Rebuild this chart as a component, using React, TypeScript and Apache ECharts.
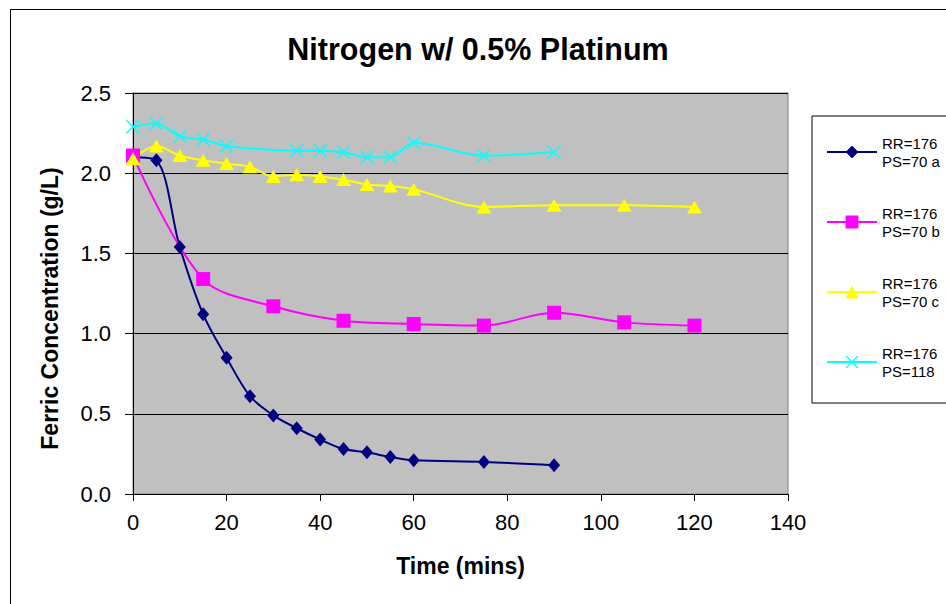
import React, { useEffect, useRef } from "react";
import * as echarts from "echarts";

const titleText = "Nitrogen w/ 0.5% Platinum";
const xAxisTitle = "Time (mins)";
const yAxisTitle = "Ferric Concentration (g/L)";

const seriesNames = [
  "RR=176\nPS=70 a",
  "RR=176\nPS=70 b",
  "RR=176\nPS=70 c",
  "RR=176\nPS=118",
];

const timesA = [0, 5, 10, 15, 20, 25, 30, 35, 40, 45, 50, 55, 60, 75, 90];
const valuesA = [2.1, 2.08, 1.54, 1.12, 0.85, 0.61, 0.49, 0.41, 0.34, 0.28, 0.26, 0.23, 0.21, 0.2, 0.18];

const timesB = [0, 15, 30, 45, 60, 75, 90, 105, 120];
const valuesB = [2.11, 1.34, 1.17, 1.08, 1.06, 1.05, 1.13, 1.07, 1.05];

const timesC = [0, 5, 10, 15, 20, 25, 30, 35, 40, 45, 50, 55, 60, 75, 90, 105, 120];
const valuesC = [2.09, 2.17, 2.11, 2.08, 2.06, 2.04, 1.98, 1.99, 1.98, 1.96, 1.93, 1.92, 1.9, 1.79, 1.8, 1.8, 1.79];

const timesD = [0, 5, 10, 15, 20, 35, 40, 45, 50, 55, 60, 75, 90];
const valuesD = [2.29, 2.31, 2.23, 2.21, 2.17, 2.14, 2.14, 2.13, 2.1, 2.1, 2.19, 2.11, 2.13];

const FONT = "'Liberation Sans', Arial, Helvetica, sans-serif";
const CROSS =
  "path://M0,7L7,0L50,43L93,0L100,7L57,50L100,93L93,100L50,57L7,100L0,93L43,50Z";

function pairs(xs: number[], ys: number[]) {
  return xs.map((x, i) => [x, ys[i]]);
}

export default function App() {
  const ref = useRef<HTMLDivElement>(null);
  useEffect(() => {
    if (!ref.current) return;
    const chart = echarts.init(ref.current, undefined, { renderer: "svg" });
    const mk = (
      name: string,
      data: number[][],
      color: string,
      symbol: string,
      symbolSize: number | number[]
    ) => ({
      name,
      type: "line",
      data,
      smooth: 0.33,
      symbol,
      symbolSize,
      showSymbol: true,
      lineStyle: { color, width: 2 },
      itemStyle: { color, borderColor: color, borderWidth: 0 },
      emphasis: { disabled: true },
    });
    chart.setOption({
      animation: false,
      backgroundColor: "#ffffff",
      textStyle: { fontFamily: FONT },
      title: {
        text: titleText,
        left: 473,
        top: 28,
        textAlign: "center",
        textStyle: { fontFamily: FONT, fontSize: 30.5, fontWeight: "bold", color: "#000" },
      },
      graphic: [
        {
          type: "rect",
          z: -10,
          shape: { x: 10.5, y: 9.5, width: 1200, height: 1200 },
          style: { fill: "none", stroke: "#000", lineWidth: 1 },
          silent: true,
        },
      ],
      legend: {
        orient: "vertical",
        left: 812,
        top: 116,
        padding: [18, 60, 23, 14],
        itemGap: 34,
        itemWidth: 50,
        itemHeight: 16,
        backgroundColor: "#ffffff",
        borderColor: "#000000",
        borderWidth: 1,
        textStyle: { fontFamily: FONT, fontSize: 15, lineHeight: 18, color: "#000" },
        data: seriesNames,
      },
      grid: {
        left: 133,
        top: 93,
        right: 158,
        bottom: 110,
        show: true,
        backgroundColor: "#C0C0C0",
        borderColor: "#808080",
        borderWidth: 1,
      },
      xAxis: {
        type: "value",
        min: 0,
        max: 140,
        interval: 20,
        name: xAxisTitle,
        nameLocation: "middle",
        nameGap: 60,
        nameTextStyle: { fontFamily: FONT, fontSize: 23, fontWeight: "bold", color: "#000" },
        axisLine: { show: true, onZero: false, lineStyle: { color: "#000", width: 1 } },
        axisTick: { show: true, inside: false, length: 7, lineStyle: { color: "#000" } },
        axisLabel: { fontFamily: FONT, fontSize: 22, color: "#000", margin: 17 },
        splitLine: { show: false },
      },
      yAxis: {
        type: "value",
        min: 0,
        max: 2.5,
        interval: 0.5,
        name: yAxisTitle,
        nameLocation: "middle",
        nameGap: 72,
        nameTextStyle: {
          fontFamily: FONT,
          fontSize: 23,
          fontWeight: "bold",
          color: "#000",
          padding: [0, 30, 0, 0],
        },
        axisLine: { show: true, lineStyle: { color: "#000", width: 1 } },
        axisTick: { show: true, inside: false, length: 8, lineStyle: { color: "#000" } },
        axisLabel: {
          fontFamily: FONT,
          fontSize: 22,
          color: "#000",
          margin: 22,
          formatter: (v: number) => v.toFixed(1),
        },
        splitLine: { show: true, lineStyle: { color: "#000", width: 1 } },
      },
      series: [
        mk(seriesNames[0], pairs(timesA, valuesA), "#000080", "diamond", [12, 14]),
        mk(seriesNames[1], pairs(timesB, valuesB), "#FF00FF", "rect", 14),
        mk(seriesNames[2], pairs(timesC, valuesC), "#FFFF00", "triangle", [15, 13]),
        mk(seriesNames[3], pairs(timesD, valuesD), "#00FFFF", CROSS, 14),
      ],
    });
    return () => chart.dispose();
  }, []);
  return (
    <div
      ref={ref}
      style={{ position: "fixed", left: 0, top: 0, width: 946, height: 604 }}
    />
  );
}
